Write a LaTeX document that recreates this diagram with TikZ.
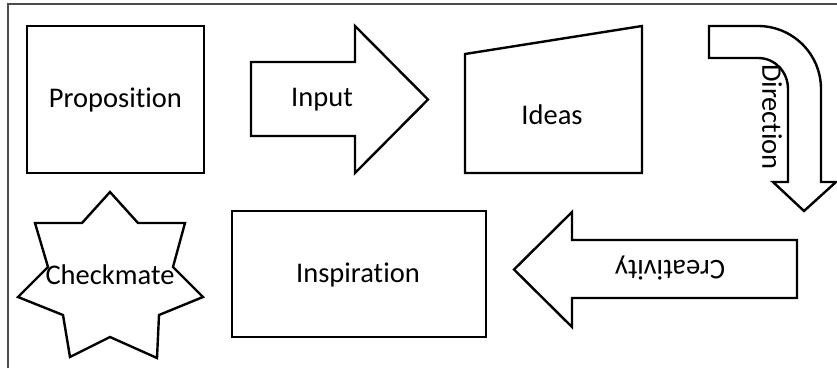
\documentclass[tikz,border=0pt]{standalone}
\usepackage{fontspec}
\setmainfont{Carlito}[Ligatures={NoCommon,NoContextual}]
\begin{document}
\begin{tikzpicture}[x=1pt,y=-1pt,
  shp/.style={draw=black, line width=2.4pt, line join=miter, fill=white},
  lbl/.style={font=\fontsize{28.5}{34}\selectfont, inner sep=0pt, text=black}
]
\fill[white] (0,0) rectangle (837,368);
\useasboundingbox (0,0) rectangle (837,368);
% frame
\draw[black!70, line width=1.5pt] (8,368) -- (8,4) -- (837,4);

% Proposition
\node[shp, minimum width=177pt, minimum height=147pt, inner sep=0pt] (prop) at (115.5,99.5) {};
\node[lbl] (tprop) at (prop.center) {Proposition};

% Input arrow
\draw[shp] (251,62) -- (355,62) -- (355,26) -- (428,99.5) -- (355,173) -- (355,136) -- (251,136) -- cycle;
\node[lbl] (tinput) at (322,100) {Input};

% Ideas
\draw[shp] (465,54) -- (642,26) -- (642,173) -- (465,173) -- cycle;
\node[lbl] (tideas) at (552,115) {Ideas};

% Direction bent arrow
\draw[shp] (709,26) -- (758,26) .. controls (792.8,26) and (821,54.2) .. (821,89)
  -- (821,182) -- (836,182) -- (804,211) -- (773,182) -- (788,182) -- (788,89)
  .. controls (788,71.9) and (775,58) .. (758,58) -- (709,58) -- cycle;
\node[lbl, rotate=-90] (tdir) at (772,117) {Direction};

% Checkmate star
\draw[shp] (110,192) -- (138,223) -- (185,223) -- (173,267) -- (203,297) -- (159,315)
  -- (157,358) -- (110,337) -- (70,357) -- (63,315) -- (18,297) -- (48,267)
  -- (35,223) -- (82,223) -- cycle;
\node[lbl] (tcheck) at (110,275) {Checkmate};

% Inspiration
\node[shp, minimum width=254pt, minimum height=126pt, inner sep=0pt] (insp) at (359,274) {};
\node[lbl] (tinsp) at (358,275) {Inspiration};

% Creativity arrow
\draw[shp] (797,240) -- (572,240) -- (572,212) -- (514,269.5) -- (572,327) -- (572,298) -- (797,298) -- cycle;
\node[lbl, rotate=180] (tcre) at (670,268) {Creativity};
\end{tikzpicture}
\end{document}
